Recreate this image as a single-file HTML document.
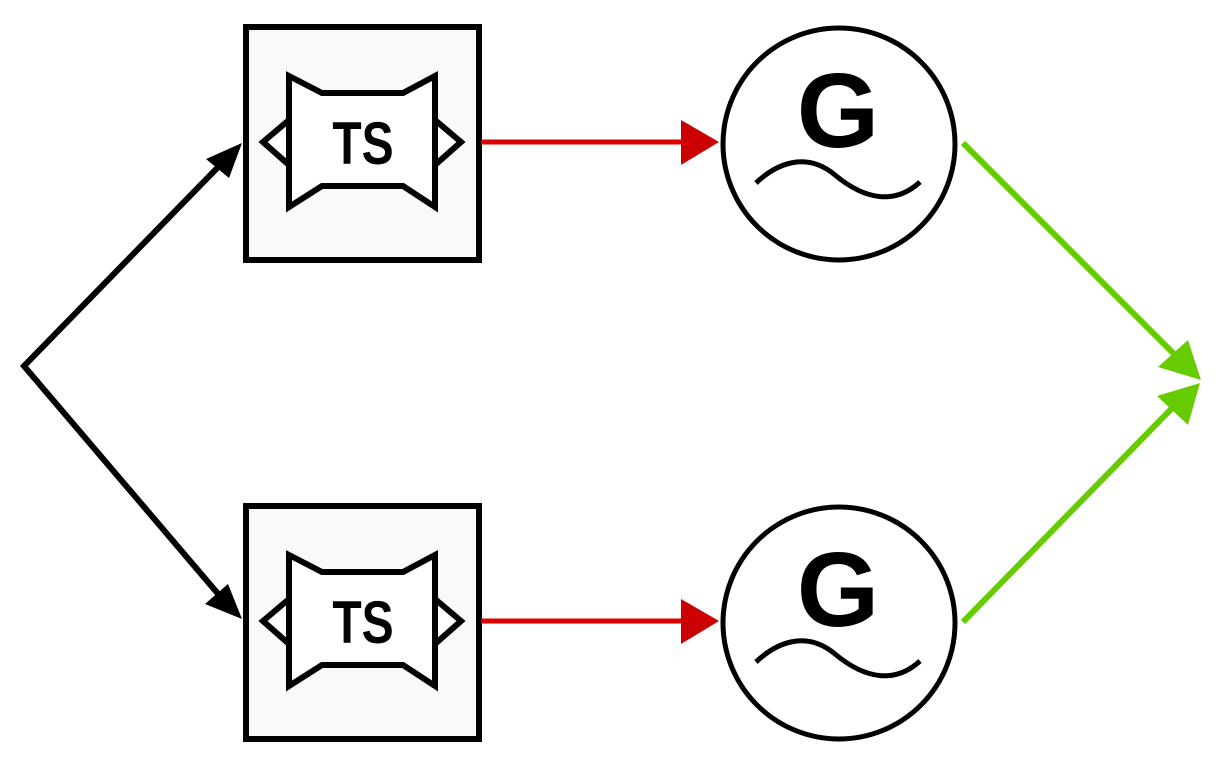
<!DOCTYPE html>
<html><head><meta charset="utf-8"><style>html,body{margin:0;padding:0;background:#fff}svg{display:block}</style></head>
<body>
<svg width="1218" height="763" viewBox="0 0 1218 763" xmlns="http://www.w3.org/2000/svg">
<defs>
<g id="unit">
  <rect x="246" y="27" width="233" height="233" fill="#f9f9f9" stroke="#000" stroke-width="6"/>
  <path d="M289,76 L322,93 L403,93 L435,76 L435,120 L461,142 L435,165 L435,207 L403,186 L322,186 L289,207 L289,165 L263,142 L289,120 Z" fill="#fff" stroke="#000" stroke-width="6" stroke-linejoin="miter"/>
  <line x1="289" y1="120" x2="289" y2="165" stroke="#000" stroke-width="6"/>
  <line x1="435" y1="120" x2="435" y2="165" stroke="#000" stroke-width="6"/>
  <text x="363" y="164" font-family="Liberation Sans, sans-serif" font-size="60" font-weight="bold" text-anchor="middle" fill="#000" transform="translate(363 0) scale(0.8 1) translate(-363 0)">TS</text>
  <line x1="481" y1="142" x2="684" y2="142" stroke="#dd0000" stroke-width="5"/>
  <polygon points="681,120 719,142 681,165" fill="#cc0000"/>
  <circle cx="839" cy="144" r="116" fill="#fff" stroke="#000" stroke-width="5"/>
  <text x="838" y="147" font-family="Liberation Sans, sans-serif" font-size="106" font-weight="bold" text-anchor="middle" fill="#000">G</text>
  <path d="M756,183 C775,165 805,150 835,175 C865,200 895,205 920,182" fill="none" stroke="#000" stroke-width="5"/>
</g>
</defs>
<use href="#unit"/>
<use href="#unit" transform="translate(0 479)"/>
<polyline points="225,160 24,366 225,602" fill="none" stroke="#000" stroke-width="6" stroke-linejoin="miter"/>
<polygon points="242,143 229,178 206,159" fill="#000"/>
<polygon points="242,619 205,604 228,584" fill="#000"/>
<line x1="963" y1="143" x2="1180" y2="360" stroke="#66cc00" stroke-width="6"/>
<line x1="963" y1="622" x2="1180" y2="400" stroke="#66cc00" stroke-width="6"/>
<polygon points="1201,380 1158,367 1188,340" fill="#66cc00"/>
<polygon points="1200,383 1188,425 1157,396" fill="#66cc00"/>
</svg>
</body></html>
